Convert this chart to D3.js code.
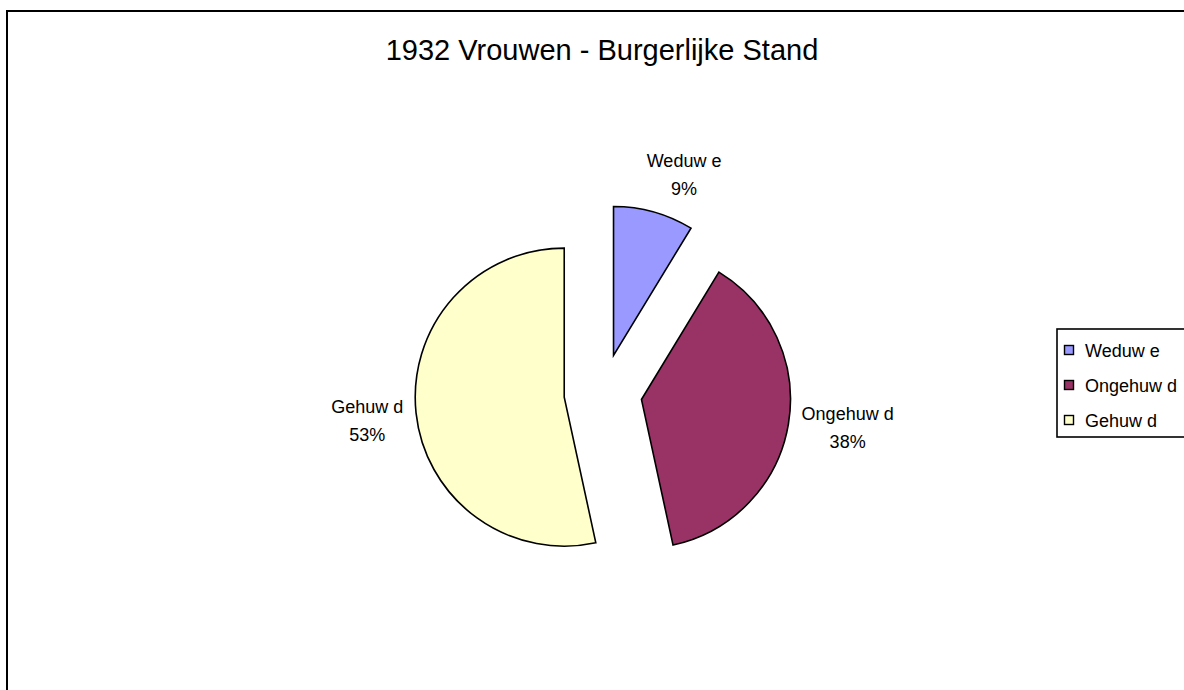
<!DOCTYPE html>
<html>
<head>
<meta charset="utf-8">
<script src="https://cdn.jsdelivr.net/npm/d3@7"></script>
<style>
  html, body { margin: 0; padding: 0; background: #ffffff; }
  svg { display: block; }
  text { font-family: "Liberation Sans", Arial, sans-serif; fill: #000; }
</style>
</head>
<body>
<svg id="chart" width="1184" height="690"></svg>
<script>
// ---- data ----
const title = "1932 Vrouwen - Burgerlijke Stand";
const categories = ["Weduw e", "Ongehuw d", "Gehuw d"];
const values = [8.7, 37.9, 53.4];
const colors = ["#9999FF", "#993366", "#FFFFCC"];

// ---- layout ----
const W = 1184, H = 690;
const svg = d3.select("#chart");

// outer chart border (extends beyond the window to the right/bottom)
svg.append("rect")
  .attr("x", 7).attr("y", 11)
  .attr("width", W + 20).attr("height", H + 20)
  .attr("fill", "#fff").attr("stroke", "#000").attr("stroke-width", 2);

// title
svg.append("text")
  .attr("x", 602).attr("y", 60)
  .attr("text-anchor", "middle")
  .attr("font-size", 29)
  .text(title);

// pie
const cx = 603, cy = 393, R = 149, explode = 39, labelPad = 12;
// small horizontal nudges for label boxes (layout only)
const labelNudgeX = [17, 2, -1];
const labelNudgeY = [-2, -2, 4];
const total = d3.sum(values);
const pie = d3.pie().sort(null).value(d => d).startAngle(0).endAngle(2 * Math.PI);
const arcs = pie(values);
const arc = d3.arc().innerRadius(0).outerRadius(R);

const g = svg.append("g").attr("transform", `translate(${cx},${cy})`);

arcs.forEach((a, i) => {
  const mid = (a.startAngle + a.endAngle) / 2;
  const ux = Math.sin(mid), uy = -Math.cos(mid);
  const sg = g.append("g").attr("transform", `translate(${ux * explode},${uy * explode})`);
  sg.append("path")
    .attr("d", arc(a))
    .attr("fill", colors[i])
    .attr("stroke", "#000")
    .attr("stroke-width", 1.6)
    .attr("stroke-linejoin", "miter");

  // label
  const pct = Math.round(values[i] / total * 100) + "%";
  const lg = sg.append("g");
  const t = lg.append("text").attr("text-anchor", "middle").attr("font-size", 18);
  t.append("tspan").attr("x", 0).attr("y", 0).text(categories[i]);
  t.append("tspan").attr("x", 0).attr("y", 28).text(pct);
  const bb = t.node().getBBox();
  const bw = bb.width, bh = bb.height;
  const px = ux * (R + labelPad), py = uy * (R + labelPad);
  const ccx = px + ux * bw / 2 + labelNudgeX[i], ccy = py + uy * bh / 2 + labelNudgeY[i];
  lg.attr("transform", `translate(${ccx},${ccy - (bb.y + bh / 2)})`);
});

// legend
const legX = 1057, legY = 329, legH = 108;
svg.append("rect")
  .attr("x", legX).attr("y", legY)
  .attr("width", 200).attr("height", legH)
  .attr("fill", "#fff").attr("stroke", "#000").attr("stroke-width", 1.6);

const ly = d3.scalePoint().domain(categories).range([legY + 21, legY + legH - 17]);
categories.forEach((c, i) => {
  const y = ly(c);
  svg.append("rect")
    .attr("x", legX + 7.5).attr("y", y - 4.5)
    .attr("width", 9).attr("height", 9)
    .attr("fill", colors[i]).attr("stroke", "#000").attr("stroke-width", 1.4);
  svg.append("text")
    .attr("x", legX + 28).attr("y", y + 6.5)
    .attr("font-size", 18)
    .text(c);
});
</script>
</body>
</html>
